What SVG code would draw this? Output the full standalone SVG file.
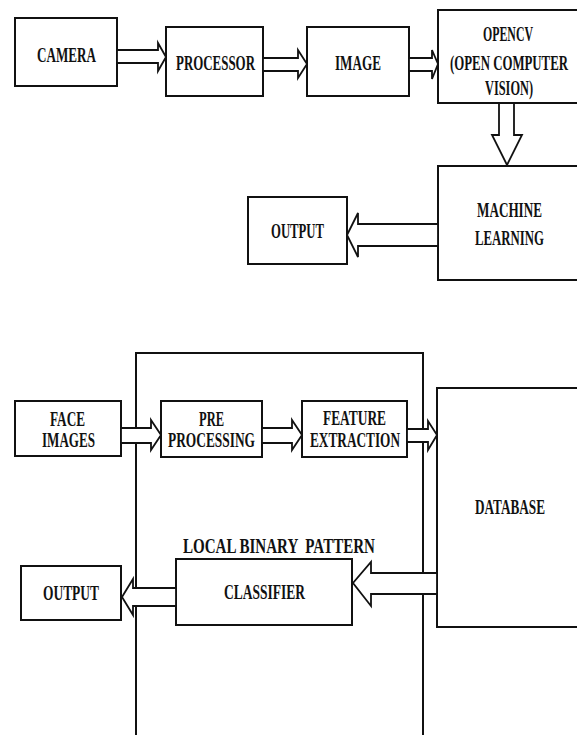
<svg xmlns="http://www.w3.org/2000/svg" width="577" height="735" viewBox="0 0 577 735">
<style>
.box{fill:#fff;stroke:#111;stroke-width:2}
.arr{fill:#fff;stroke:#111;stroke-width:1.8;stroke-linejoin:miter}
.frame{fill:none;stroke:#111;stroke-width:2}
text{font-family:"Liberation Serif","Times New Roman",serif;font-weight:bold;fill:#111;font-size:22px}
.s{font-size:20px}
</style>
<rect width="577" height="735" fill="#fff"/>
<path id="frame" class="frame" d="M136,736 V353 H423 V736"/>
<g id="camera"><rect class="box" x="15" y="18" width="102" height="68"/><text transform="translate(37,62) scale(0.6,1)" textLength="98.3" lengthAdjust="spacingAndGlyphs">CAMERA</text></g>
<g id="processor"><rect class="box" x="166" y="27" width="97" height="69"/><text transform="translate(176,70) scale(0.6,1)" textLength="131.7" lengthAdjust="spacingAndGlyphs">PROCESSOR</text></g>
<g id="image"><rect class="box" x="307" y="27" width="102" height="69"/><text transform="translate(335,70) scale(0.6,1)" textLength="76.7" lengthAdjust="spacingAndGlyphs">IMAGE</text></g>
<g id="opencv"><path class="box" d="M577,10 H438 V103 H577"/>
<text transform="translate(483,41) scale(0.6,1)" textLength="83.3" lengthAdjust="spacingAndGlyphs">OPENCV</text>
<text transform="translate(450,70) scale(0.6,1)" textLength="196.7" lengthAdjust="spacingAndGlyphs">(OPEN COMPUTER</text>
<text transform="translate(485,95) scale(0.6,1)" textLength="80" lengthAdjust="spacingAndGlyphs">VISION)</text></g>
<g id="ml"><path class="box" d="M577,166 H438 V280 H577"/>
<text transform="translate(477,217) scale(0.6,1)" textLength="108.3" lengthAdjust="spacingAndGlyphs">MACHINE</text>
<text transform="translate(475,245) scale(0.6,1)" textLength="115" lengthAdjust="spacingAndGlyphs">LEARNING</text></g>
<g id="output1"><rect class="box" x="248" y="197" width="99" height="67"/><text transform="translate(271,238) scale(0.6,1)" textLength="88.3" lengthAdjust="spacingAndGlyphs">OUTPUT</text></g>
<g id="face"><rect class="box" x="15" y="401" width="106" height="55"/>
<text class="s" transform="translate(50,426) scale(0.6,1)" textLength="58.3" lengthAdjust="spacingAndGlyphs">FACE</text>
<text class="s" transform="translate(42,447) scale(0.6,1)" textLength="88.3" lengthAdjust="spacingAndGlyphs">IMAGES</text></g>
<g id="pre"><rect class="box" x="161" y="401" width="101" height="56"/>
<text class="s" transform="translate(199,426) scale(0.6,1)" textLength="41.7" lengthAdjust="spacingAndGlyphs">PRE</text>
<text class="s" transform="translate(168,447) scale(0.6,1)" textLength="145" lengthAdjust="spacingAndGlyphs">PROCESSING</text></g>
<g id="feature"><rect class="box" x="302" y="401" width="105" height="56"/>
<text class="s" transform="translate(323,425) scale(0.6,1)" textLength="105" lengthAdjust="spacingAndGlyphs">FEATURE</text>
<text class="s" transform="translate(310,447) scale(0.6,1)" textLength="150" lengthAdjust="spacingAndGlyphs">EXTRACTION</text></g>
<g id="database"><path class="box" d="M577,388 H437 V627 H577"/>
<text class="s" transform="translate(475,514) scale(0.6,1)" textLength="116.7" lengthAdjust="spacingAndGlyphs">DATABASE</text></g>
<g id="classifier"><rect class="box" x="176" y="559" width="176" height="66"/>
<text class="s" transform="translate(224,599) scale(0.6,1)" textLength="135" lengthAdjust="spacingAndGlyphs">CLASSIFIER</text></g>
<text id="lbp" class="s" transform="translate(183,553) scale(0.6,1)" textLength="320" lengthAdjust="spacingAndGlyphs" xml:space="preserve">LOCAL BINARY  PATTERN</text>
<g id="output2"><rect class="box" x="21" y="566" width="100" height="54"/>
<text class="s" transform="translate(43,600) scale(0.6,1)" textLength="93.3" lengthAdjust="spacingAndGlyphs">OUTPUT</text></g>
<g id="connectors">
<polygon class="arr" points="117,50 158,50 158,43 166,57 158,71 158,63 117,63"/>
<polygon class="arr" points="263,58 298,58 298,50 307,64 298,78 298,71 263,71"/>
<polygon class="arr" points="409,58 432,58 432,50 438,64 432,79 432,71 409,71"/>
<polygon class="arr" points="499,103 499,135 492,135 507,165 522,135 514,135 514,103"/>
<polygon class="arr" points="438,224 358,224 358,213 347,235 358,257 358,246 438,246"/>
<polygon class="arr" points="121,428 151,428 151,420 161,435 151,450 151,443 121,443"/>
<polygon class="arr" points="262,428 292,428 292,420 302,435 292,450 292,443 262,443"/>
<polygon class="arr" points="407,429 428,429 428,421 437,435 428,450 428,442 407,442"/>
<polygon class="arr" points="437,573 371,573 371,562 353,583 371,606 371,594 437,594"/>
<polygon class="arr" points="176,588 133,588 133,579 122,597 133,615 133,606 176,606"/>
</g>
</svg>
